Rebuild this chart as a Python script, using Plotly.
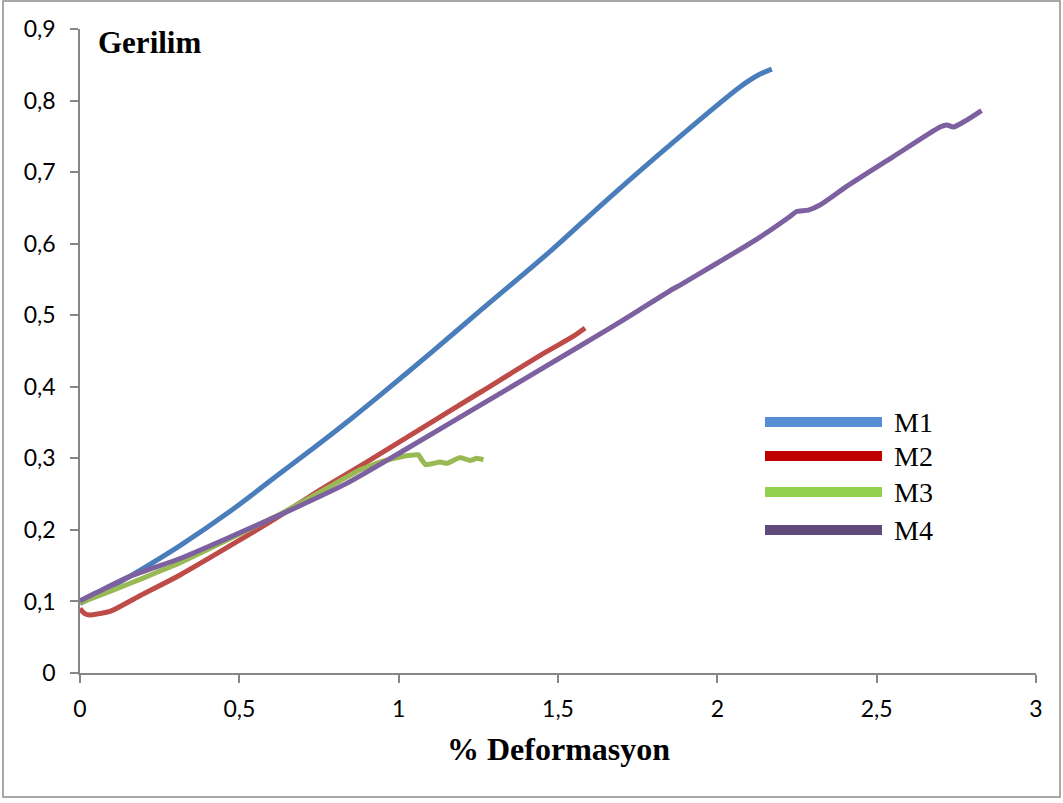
import plotly.graph_objects as go

# Stress–strain curves of four mixtures (M1..M4)
m1_x = [0, 0.105, 0.209, 0.314, 0.471, 0.628, 0.732, 0.847, 0.941, 1.10, 1.255, 1.48, 1.653, 1.862, 2.071, 2.13, 2.171]
m1_y = [0.097, 0.122, 0.149, 0.178, 0.226, 0.279, 0.314, 0.354, 0.388, 0.447, 0.506, 0.591, 0.661, 0.742, 0.819, 0.836, 0.844]

m2_x = [0, 0.015, 0.031, 0.06, 0.094, 0.188, 0.314, 0.502, 0.628, 0.75, 0.889, 1.036, 1.255, 1.464, 1.55, 1.585]
m2_y = [0.090, 0.083, 0.081, 0.083, 0.086, 0.108, 0.137, 0.186, 0.220, 0.255, 0.292, 0.332, 0.392, 0.449, 0.471, 0.482]

m3_x = [0, 0.1, 0.2, 0.314, 0.471, 0.628, 0.75, 0.879, 0.95, 1.015, 1.062, 1.072, 1.085, 1.13, 1.151, 1.192, 1.224, 1.245, 1.266]
m3_y = [0.098, 0.115, 0.133, 0.154, 0.188, 0.222, 0.252, 0.284, 0.296, 0.303, 0.305, 0.298, 0.291, 0.295, 0.293, 0.301, 0.297, 0.300, 0.298]

m4_x = [0, 0.05, 0.157, 0.314, 0.471, 0.628, 0.837, 1.02, 1.255, 1.569, 1.663, 1.747, 1.862, 1.883, 2.0, 2.123,
        2.228, 2.249, 2.286, 2.322, 2.406, 2.55, 2.699, 2.72, 2.741, 2.78, 2.829]
m4_y = [0.101, 0.112, 0.135, 0.160, 0.190, 0.221, 0.265, 0.312, 0.374, 0.457, 0.482, 0.505, 0.537, 0.542, 0.573, 0.606,
        0.638, 0.645, 0.647, 0.654, 0.680, 0.721, 0.763, 0.766, 0.763, 0.772, 0.786]

series_names = ["M1", "M2", "M3", "M4"]
line_colors = ["#4A7EBB", "#BE4B48", "#98B954", "#7D60A0"]
key_colors = ["#558ED5", "#C00000", "#92D050", "#604A7B"]
smoothing = [0.8, 0.8, 0.3, 0.6]

x_ticks = [0, 0.5, 1, 1.5, 2, 2.5, 3]
y_ticks = [0, 0.1, 0.2, 0.3, 0.4, 0.5, 0.6, 0.7, 0.8, 0.9]

W, H = 1063, 803
L, R, T, B = 80, 27, 29, 130
PW, PH = W - L - R, H - T - B


def px(xp):
    return (xp - L) / PW


def py(yp):
    return (H - B - yp) / PH


fig = go.Figure()
for xs, ys, name, col, sm in zip([m1_x, m2_x, m3_x, m4_x], [m1_y, m2_y, m3_y, m4_y],
                                 series_names, line_colors, smoothing):
    fig.add_trace(go.Scatter(x=xs, y=ys, name=name, mode="lines",
                             line=dict(color=col, width=5, shape="spline", smoothing=sm),
                             showlegend=False))

axis_col = "#868686"
tick_font = dict(family="Lato, Open Sans, sans-serif", size=23, color="#000000")
serif = "Liberation Serif, Times New Roman, serif"

fig.update_xaxes(range=[0, 3], tickvals=x_ticks, showgrid=False, zeroline=False,
                 showline=True, linecolor=axis_col, linewidth=1.5,
                 ticks="outside", ticklen=8, tickwidth=1.5, tickcolor=axis_col,
                 tickfont=tick_font, ticklabelstandoff=7)
fig.update_yaxes(range=[0, 0.9], tickvals=y_ticks, showgrid=False, zeroline=False,
                 showline=True, linecolor=axis_col, linewidth=1.5,
                 ticks="outside", ticklen=8, tickwidth=1.5, tickcolor=axis_col,
                 tickfont=tick_font, ticklabelstandoff=10)

shapes = [dict(type="rect", xref="paper", yref="paper",
               x0=px(3), x1=px(1060), y0=py(797), y1=py(1),
               line=dict(color="#8C8C8C", width=1.5), layer="below")]
annotations = [
    dict(text="<b>Gerilim</b>", xref="paper", yref="paper", x=px(96), y=py(43),
         xanchor="left", yanchor="middle", showarrow=False,
         font=dict(family=serif, size=31, color="#000000")),
    dict(text="<b>% Deformasyon</b>", xref="paper", yref="paper", x=px(558), y=py(749),
         xanchor="center", yanchor="middle", showarrow=False,
         font=dict(family=serif, size=32, color="#000000")),
]

# Key: long colour bars with serif labels
key_rows = [422, 456, 492, 530]
for name, col, yr in zip(series_names, key_colors, key_rows):
    shapes.append(dict(type="line", xref="paper", yref="paper",
                       x0=px(765), x1=px(882), y0=py(yr), y1=py(yr),
                       line=dict(color=col, width=10)))
    annotations.append(dict(text=name, xref="paper", yref="paper", x=px(892), y=py(yr),
                            xanchor="left", yanchor="middle", showarrow=False,
                            font=dict(family=serif, size=28, color="#000000")))

fig.update_layout(width=W, height=H, autosize=False,
                  margin=dict(l=L, r=R, t=T, b=B, pad=0),
                  paper_bgcolor="white", plot_bgcolor="white",
                  separators=",.", shapes=shapes, annotations=annotations)

fig.write_html("out.html")
